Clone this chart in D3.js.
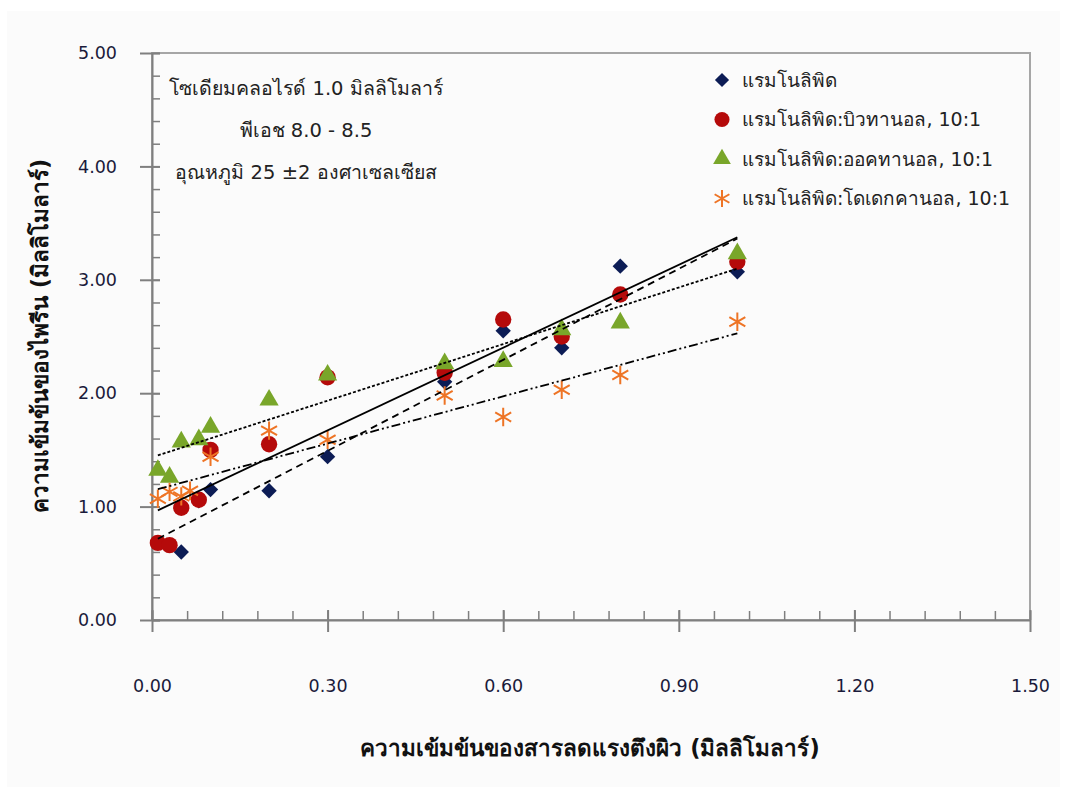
<!DOCTYPE html>
<html lang="th">
<head>
  <meta charset="UTF-8">
  <title>Pyrene solubilisation vs surfactant concentration</title>
  <script src="https://d3js.org/d3.v7.min.js"></script>
  <style>
    body { margin: 0; background: #ffffff; }
    svg text { font-family: Tahoma, "DejaVu Sans", "Noto Sans", sans-serif; fill: #1a1a3a; }
    .axis-title { font-weight: bold; font-size: 22.5px; fill: #111; }
    .note { font-size: 19.5px; fill: #222; }
    .legend text { font-size: 19px; fill: #222; }
  </style>
</head>
<body>
  <svg width="1067" height="794"></svg>

  <script>
    // surfactant concentration (mM) for each series
    const xRham   = [0.01, 0.03, 0.05, 0.08, 0.10, 0.20, 0.30, 0.50, 0.60, 0.70, 0.80, 1.00];
    const yRham   = [0.68, 0.66, 0.60, 1.05, 1.15, 1.14, 1.44, 2.10, 2.55, 2.40, 3.12, 3.07];
    const xButan  = [0.01, 0.03, 0.05, 0.08, 0.10, 0.20, 0.30, 0.50, 0.60, 0.70, 0.80, 1.00];
    const yButan  = [0.68, 0.66, 0.99, 1.06, 1.50, 1.55, 2.14, 2.18, 2.65, 2.50, 2.87, 3.16];
    const xOctan  = [0.01, 0.03, 0.05, 0.08, 0.10, 0.20, 0.30, 0.50, 0.60, 0.70, 0.80, 1.00];
    const yOctan  = [1.32, 1.26, 1.57, 1.59, 1.70, 1.94, 2.16, 2.26, 2.28, 2.56, 2.62, 3.23];
    const xDodec  = [0.01, 0.03, 0.05, 0.065, 0.10, 0.20, 0.30, 0.50, 0.60, 0.70, 0.80, 1.00];
    const yDodec  = [1.07, 1.13, 1.09, 1.14, 1.44, 1.67, 1.59, 1.98, 1.79, 2.03, 2.16, 2.63];

    const seriesNames = [
      "แรมโนลิพิด",
      "แรมโนลิพิด:บิวทานอล, 10:1",
      "แรมโนลิพิด:ออคทานอล, 10:1",
      "แรมโนลิพิด:โดเดกคานอล, 10:1"
    ];
    const xTicks = [0, 0.3, 0.6, 0.9, 1.2, 1.5];
    const yTicks = [0, 1, 2, 3, 4, 5];
    const noteLines = [
      "โซเดียมคลอไรด์ 1.0 มิลลิโมลาร์",
      "พีเอช 8.0 - 8.5",
      "อุณหภูมิ 25 ±2 องศาเซลเซียส"
    ];
    const xTitle = "ความเข้มข้นของสารลดแรงตึงผิว (มิลลิโมลาร์)";
    const yTitle = "ความเข้มข้นของไพรีน (มิลลิโมลาร์)";

    const series = [
      { name: seriesNames[0], xs: xRham,  ys: yRham,  symbol: d3.symbolDiamond2, size: 150, color: "#0c1c55", dash: "7,5" },
      { name: seriesNames[1], xs: xButan, ys: yButan, symbol: d3.symbolCircle,   size: 210, color: "#b50a0a", dash: null },
      { name: seriesNames[2], xs: xOctan, ys: yOctan, symbol: d3.symbolTriangle, size: 160, color: "#79a62a", dash: "3,2" },
      { name: seriesNames[3], xs: xDodec, ys: yDodec, symbol: d3.symbolAsterisk, size: 240, color: "#ee7425", dash: "9,3,2,3,2,3" }
    ];

    const margin = { top: 53, right: 37, bottom: 174, left: 152 };
    const width = 1067 - margin.left - margin.right;
    const height = 794 - margin.top - margin.bottom;

    const svg = d3.select("svg");

    // chart area background
    svg.append("rect")
      .attr("x", 7).attr("y", 11)
      .attr("width", 1053).attr("height", 776)
      .attr("fill", "#fbfbfb");

    const g = svg.append("g")
      .attr("transform", `translate(${margin.left},${margin.top})`);

    const x = d3.scaleLinear().domain([0, 1.5]).range([0, width]);
    const y = d3.scaleLinear().domain([0, 5]).range([height, 0]);

    // plot area border
    g.append("rect")
      .attr("width", width).attr("height", height)
      .attr("fill", "none")
      .attr("stroke", "#a6a6a6")
      .attr("stroke-width", 2);

    const axisColor = "#7f7f7f";

    // minor ticks (inside)
    g.append("g")
      .attr("transform", `translate(0,${height})`)
      .call(d3.axisBottom(x).tickValues(d3.range(0, 1.5001, 0.06)).tickSize(-9).tickFormat(""))
      .call(a => a.select(".domain").remove())
      .call(a => a.selectAll("line").attr("stroke", axisColor).attr("stroke-width", 1.5));
    g.append("g")
      .call(d3.axisLeft(y).tickValues(d3.range(0, 5.001, 0.2)).tickSize(-8).tickFormat(""))
      .call(a => a.select(".domain").remove())
      .call(a => a.selectAll("line").attr("stroke", axisColor).attr("stroke-width", 1.5));

    // major x axis
    const gx = g.append("g")
      .attr("transform", `translate(0,${height})`)
      .call(d3.axisBottom(x).tickValues(xTicks).tickSize(12).tickSizeOuter(0).tickPadding(48).tickFormat(d3.format(".2f")));
    gx.select(".domain").attr("stroke", axisColor).attr("stroke-width", 2);
    gx.selectAll(".tick line").attr("y1", -10).attr("stroke", axisColor).attr("stroke-width", 2);
    gx.selectAll(".tick text").attr("font-size", 17.5);

    // major y axis
    const gy = g.append("g")
      .call(d3.axisLeft(y).tickValues(yTicks).tickSize(12).tickSizeOuter(0).tickPadding(23).tickFormat(d3.format(".2f")));
    gy.select(".domain").attr("stroke", axisColor).attr("stroke-width", 2);
    gy.selectAll(".tick line").attr("x1", 8).attr("stroke", axisColor).attr("stroke-width", 2);
    gy.selectAll(".tick text").attr("font-size", 17.5);

    // markers
    series.forEach(s => {
      const pts = s.xs.map((v, i) => [v, s.ys[i]]);
      g.append("g").selectAll("path")
        .data(pts)
        .join("path")
        .attr("transform", d => `translate(${x(d[0])},${y(d[1])})`)
        .attr("d", d3.symbol().type(s.symbol).size(s.size))
        .attr("fill", s.symbol === d3.symbolAsterisk ? "none" : s.color)
        .attr("stroke", s.symbol === d3.symbolAsterisk ? s.color : "none")
        .attr("stroke-width", 2);
    });

    // linear trendlines (least squares over each series)
    function fit(xs, ys) {
      const mx = d3.mean(xs), my = d3.mean(ys);
      const sxy = d3.sum(xs, (v, i) => (v - mx) * (ys[i] - my));
      const sxx = d3.sum(xs, v => (v - mx) * (v - mx));
      const b = sxy / sxx;
      return { a: my - b * mx, b };
    }
    const line = d3.line().x(d => x(d[0])).y(d => y(d[1]));
    series.forEach(s => {
      const f = fit(s.xs, s.ys);
      const [x0, x1] = d3.extent(s.xs);
      g.append("path")
        .datum([[x0, f.a + f.b * x0], [x1, f.a + f.b * x1]])
        .attr("d", line)
        .attr("fill", "none")
        .attr("stroke", "#000")
        .attr("stroke-width", 1.8)
        .attr("stroke-dasharray", s.dash);
    });

    // condition note
    g.append("g").selectAll("text")
      .data(noteLines)
      .join("text")
      .attr("class", "note")
      .attr("x", 154)
      .attr("y", (d, i) => 42 + i * 42)
      .attr("text-anchor", "middle")
      .text(d => d);

    // legend
    const legend = g.append("g").attr("class", "legend")
      .attr("transform", `translate(570,27)`);
    const rows = legend.selectAll("g")
      .data(series)
      .join("g")
      .attr("transform", (d, i) => `translate(0,${i * 39.5})`);
    rows.append("path")
      .attr("d", d => d3.symbol().type(d.symbol).size(d.size * 0.85)())
      .attr("fill", d => d.symbol === d3.symbolAsterisk ? "none" : d.color)
      .attr("stroke", d => d.symbol === d3.symbolAsterisk ? d.color : "none")
      .attr("stroke-width", 2);
    rows.append("text")
      .attr("x", 20)
      .attr("dy", "0.35em")
      .text(d => d.name);

    // axis titles
    svg.append("text")
      .attr("class", "axis-title")
      .attr("x", 590).attr("y", 756)
      .attr("text-anchor", "middle")
      .text(xTitle);
    svg.append("text")
      .attr("class", "axis-title")
      .attr("transform", "translate(48,336) rotate(-90)")
      .attr("text-anchor", "middle")
      .text(yTitle);
  </script>
</body>
</html>
